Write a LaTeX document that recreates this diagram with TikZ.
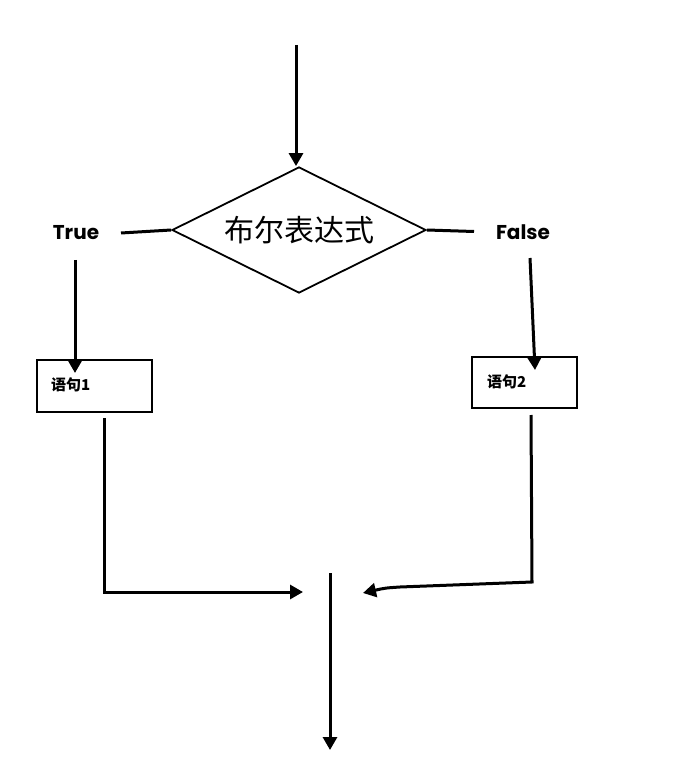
\documentclass[tikz,border=0pt]{standalone}
\usepackage{fontspec}
\setmainfont{Poppins}
\newfontfamily\cjk{Noto Sans CJK SC}
\usetikzlibrary{arrows.meta,shapes.geometric}
\begin{document}
\begin{tikzpicture}[x=1pt,y=-1pt,
  conn/.style={line width=3pt,-{Triangle[length=13pt,width=14pt]}},
  plain/.style={line width=3pt},
  stmt/.style={draw,line width=1.8pt,minimum width=#1,inner sep=0pt},
  blabel/.style={font=\fontsize{20}{22}\selectfont\bfseries},
  slabel/.style={font=\cjk\fontsize{15}{17}\selectfont\bfseries,anchor=west,inner sep=0pt}]
\useasboundingbox (0,0) rectangle (697,775);
% decision
\node[diamond,draw,line width=1.8pt,shape aspect=2,minimum width=254pt,minimum height=126pt,inner sep=0pt,
  font=\cjk\fontsize{30}{32}\selectfont] (dia) at (299,230) {布尔表达式};
\node[blabel] (tr) at (76,233) {True};
\node[blabel] (fa) at (523,232) {False};
% statement boxes
\node[stmt=115pt,minimum height=52pt] (b1) at (94.5,386) {};
\node[stmt=105pt,minimum height=51pt] (b2) at (524.5,382.5) {};
\node[slabel] (s1) at (51,385) {语句1};
\node[slabel] (s2) at (487,382) {语句2};
% free ends
\coordinate (top) at (296,45);
\coordinate (tl) at (121,233);
\coordinate (tr0) at (474,231.5);
\coordinate (t1) at (75,260);
\coordinate (f1) at (530,258);
\coordinate (f2) at (535,370);
\coordinate (l1) at (104,418);
\coordinate (l2) at (104,592);
\coordinate (l3) at (303,592);
\coordinate (r1) at (531,415);
\coordinate (r2) at (532,582);
\coordinate (r3) at (400,587);
\coordinate (r4) at (363,593);
\coordinate (m1) at (330,573);
\coordinate (m2) at (330,750);
% connectors
\draw[conn] (top) -- (top |- dia.north);
\draw[plain] (dia.west) -- (tl);
\draw[plain] (dia.east) -- (tr0);
\draw[conn] (t1) -- (75,373);
\draw[conn] (f1) -- (f2);
\draw[conn] (l1) -- (l2) -- (l3);
\draw[conn] (r1) -- (r2) -- (r3) .. controls (385,588) .. (r4);
\draw[conn] (m1) -- (m2);
\end{tikzpicture}
\end{document}
